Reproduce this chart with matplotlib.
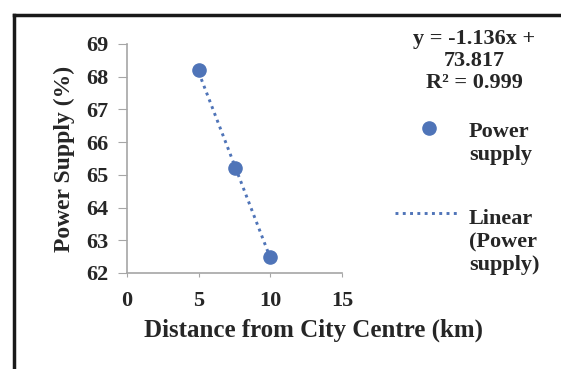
import numpy as np
import matplotlib.pyplot as plt
from matplotlib.lines import Line2D

# Datos
distancia = [5, 7.5, 10]
suministro = [68.2, 65.2, 62.5]
pendiente = -1.136
intercepto = 73.817
r2 = 0.999
yticks = [62, 63, 64, 65, 66, 67, 68, 69]
xticks = [0, 5, 10, 15]

azul = '#4f74b8'
texto = '#262626'
gris = '#a6a6a6'
punteado = (0, (1, 1.5))

plt.rcParams['font.family'] = ['Liberation Serif', 'DejaVu Serif']
plt.rcParams['font.weight'] = 'bold'

W, H = 561, 369
fig = plt.figure(figsize=(W / 100, H / 100), dpi=100)
ax = fig.add_axes([127 / W, 1 - 273 / H, 215 / W, 229 / H])

ax.scatter(distancia, suministro, s=90, color=azul, zorder=3)
xl = np.array([min(distancia), max(distancia)])
ax.plot(xl, pendiente * xl + intercepto, linestyle=punteado, color=azul, lw=2.1, zorder=2)

ax.set_xlim(0, 15)
ax.set_ylim(62, 69)
ax.set_xticks(xticks)
ax.set_yticks(yticks)
for s in ['top', 'right']:
    ax.spines[s].set_visible(False)
for s in ['left', 'bottom']:
    ax.spines[s].set_color(gris)
    ax.spines[s].set_linewidth(1.2)
ax.tick_params(axis='y', length=6.5, color=gris, labelsize=16, labelcolor=texto, pad=7)
ax.tick_params(axis='x', length=3, color=gris, labelsize=16, labelcolor=texto, pad=10)
for lab in ax.get_xticklabels() + ax.get_yticklabels():
    lab.set_fontweight('bold')

ax.set_xlabel('Distance from City Centre (km)', fontsize=18, fontweight='bold', color=texto)
ax.xaxis.set_label_coords((313 - 127) / 215, (273 - 319) / 229)
ax.set_ylabel('Power Supply (%)', fontsize=17, fontweight='bold', color=texto, labelpad=8)

# Ecuacion de la tendencia (baseline = ultima linea)
ecuacion = f'y = {pendiente:.3f}x +\n{intercepto:.3f}\nR² = {r2:.3f}'
fig.text(474 / W, 1 - 88 / H, ecuacion, ha='center', va='baseline', fontsize=16,
         fontweight='bold', color=texto, linespacing=1.13, multialignment='center')

# Leyenda manual
fig.add_artist(Line2D([429 / W], [1 - 128 / H], marker='o', markersize=9.5, color=azul, linestyle='none'))
fig.text(469 / W, 1 - 160 / H, 'Power\nsupply', ha='left', va='baseline', fontsize=16,
         fontweight='bold', color=texto, linespacing=1.2)
fig.add_artist(Line2D([395 / W, 458 / W], [1 - 213 / H] * 2, linestyle=punteado, lw=2.1, color=azul))
fig.text(469 / W, 1 - 270 / H, 'Linear\n(Power\nsupply)', ha='left', va='baseline', fontsize=16,
         fontweight='bold', color=texto, linespacing=1.2)

# Marco superior e izquierdo
fig.add_artist(Line2D([13.5 / W, 1], [1 - 15 / H] * 2, color='#1a1a1a', lw=2.5))
fig.add_artist(Line2D([13.5 / W] * 2, [0, 1 - 15 / H], color='#1a1a1a', lw=2.5))

fig.savefig('out.png', dpi=100)
plt.close(fig)
